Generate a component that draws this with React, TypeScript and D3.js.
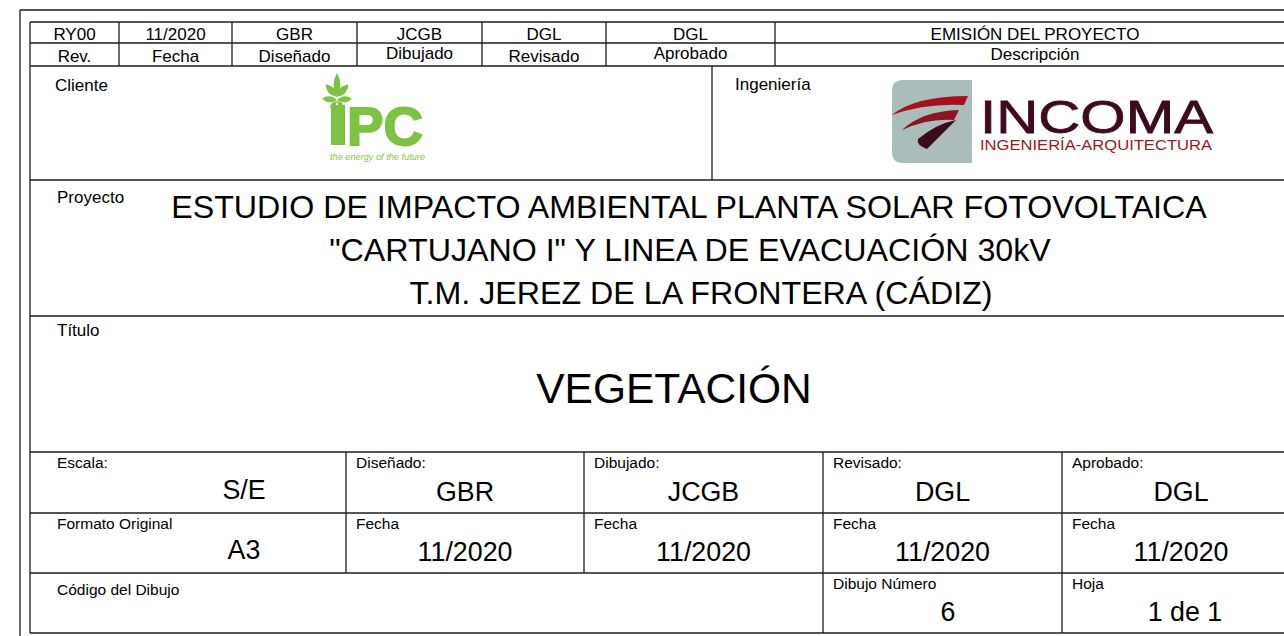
import React, { useEffect, useRef } from "react";
import * as d3 from "d3";

// ---------- data ----------
const revValues = ["RY00", "11/2020", "GBR", "JCGB", "DGL", "DGL", "EMISIÓN DEL PROYECTO"];
const revLabels = ["Rev.", "Fecha", "Diseñado", "Dibujado", "Revisado", "Aprobado", "Descripción"];
const clientLabel = "Cliente";
const engineeringLabel = "Ingeniería";
const projectLabel = "Proyecto";
const projectLines = [
  "ESTUDIO DE IMPACTO AMBIENTAL PLANTA SOLAR FOTOVOLTAICA",
  "\"CARTUJANO I\" Y LINEA DE EVACUACIÓN 30kV",
  "T.M. JEREZ DE LA FRONTERA (CÁDIZ)",
];
const titleLabel = "Título";
const drawingTitle = "VEGETACIÓN";
const gridRow1Labels = ["Escala:", "Diseñado:", "Dibujado:", "Revisado:", "Aprobado:"];
const gridRow1Values = ["S/E", "GBR", "JCGB", "DGL", "DGL"];
const gridRow2Labels = ["Formato Original", "Fecha", "Fecha", "Fecha", "Fecha"];
const gridRow2Values = ["A3", "11/2020", "11/2020", "11/2020", "11/2020"];
const gridRow3Labels = ["Código del Dibujo", "Dibujo Número", "Hoja"];
const gridRow3Values = ["", "6", "1 de 1"];
const ipcName = "PC";
const ipcTagline = "the energy of the future";
const incomaName = "INCOMA";
const incomaTagline = "INGENIERÍA-ARQUITECTURA";

// ---------- layout ----------
const W = 1284;
const H = 636;
const FONT = "'Liberation Sans', Arial, Helvetica, sans-serif";
const LINE = "#1c1c1c";
const revEdges = [30, 119, 232, 357, 482, 606, 775, 1295];
const revLabelDy = [0, 0, 0, -3, 0, -3, -2];
const gridEdges = [30, 346, 584, 823, 1062, 1300];
const row3Edges = [30, 823, 1062, 1300];
const GREEN = "#7dc242";

export default function App() {
  const ref = useRef<SVGSVGElement | null>(null);

  useEffect(() => {
    const svg = d3.select(ref.current);
    svg.selectAll("*").remove();
    const g = svg.append("g");

    const line = (x1: number, y1: number, x2: number, y2: number, w = 1.3) =>
      g.append("line").attr("x1", x1).attr("y1", y1).attr("x2", x2).attr("y2", y2)
        .attr("stroke", LINE).attr("stroke-width", w);

    const text = (s: string, x: number, y: number, size: number, anchor = "start") =>
      g.append("text").attr("x", x).attr("y", y).attr("font-family", FONT)
        .attr("font-size", size).attr("text-anchor", anchor).attr("fill", "#000").text(s);

    // outer frame
    line(20, 10, 1300, 10);
    line(20, 10, 20, 640);
    // inner frame
    line(30, 22, 1300, 22);
    line(30, 22, 30, 633);
    line(30, 633, 1300, 633);

    // horizontal lines
    [43, 66, 180, 316, 452, 513, 573].forEach((y) => line(30, y, 1300, y));

    // revision table
    const revCenters = d3.pairs(revEdges).map(([a, b]) => (a + b) / 2);
    revEdges.slice(1, -1).forEach((x) => line(x, 22, x, 66));
    revValues.forEach((v, i) => text(v, revCenters[i], 40, 17, "middle"));
    revLabels.forEach((v, i) => text(v, revCenters[i], 61.5 + revLabelDy[i], 17, "middle"));

    // client / engineering
    line(712, 66, 712, 180);
    text(clientLabel, 55, 90.5, 17);
    text(engineeringLabel, 735, 90, 17);

    // IPC logo
    const ipc = g.append("g");
    const leafPath = (cx: number, cy: number, len: number, wid: number, ang: number) => {
      const p = d3.path();
      p.moveTo(0, 0);
      p.quadraticCurveTo(wid, -len * 0.5, 0, -len);
      p.quadraticCurveTo(-wid, -len * 0.5, 0, 0);
      ipc.append("path").attr("d", p.toString())
        .attr("transform", `translate(${cx},${cy}) rotate(${ang})`)
        .attr("fill", GREEN);
    };
    leafPath(337, 97, 24, 7, 0);
    leafPath(337, 97, 17, 7, -42);
    leafPath(337, 97, 17, 7, 42);
    leafPath(337, 100, 15, 6, -85);
    leafPath(337, 100, 15, 6, 85);
    leafPath(337, 101, 10, 4, -135);
    leafPath(337, 101, 10, 4, 135);
    ipc.append("rect").attr("x", 331).attr("y", 105).attr("width", 14).attr("height", 40).attr("fill", GREEN);
    const ipcText = ipc.append("text").attr("font-family", FONT).attr("fill", GREEN);
    ipcText.append("tspan").attr("x", 347).attr("y", 145)
      .attr("font-weight", "bold").attr("font-size", 54)
      .attr("stroke", GREEN).attr("stroke-width", 1.8)
      .attr("textLength", 76).attr("lengthAdjust", "spacingAndGlyphs").text(ipcName);
    ipcText.append("tspan").attr("x", 330).attr("y", 160)
      .attr("font-size", 9).attr("fill", "#8cc63f").attr("font-style", "italic")
      .attr("textLength", 95).attr("lengthAdjust", "spacingAndGlyphs").text(ipcTagline);

    // INCOMA logo
    const inc = g.append("g");
    const box = d3.path();
    box.moveTo(972, 80);
    box.lineTo(903, 80);
    box.quadraticCurveTo(892, 80, 892, 91);
    box.lineTo(892, 152);
    box.quadraticCurveTo(892, 163, 903, 163);
    box.lineTo(972, 163);
    box.closePath();
    inc.append("path").attr("d", box.toString()).attr("fill", "#abbdba");
    inc.append("path").attr("d", "M892,115 Q915,96 968,96 L964,105 Q925,103 892,115 Z").attr("fill", "#a3121e");
    inc.append("path").attr("d", "M902,130 Q922,111 959,110 L954,120 Q928,118 902,130 Z").attr("fill", "#8c1423");
    inc.append("path").attr("d", "M918,139 Q936,124 956,120 L927,149 Q916,145 918,139 Z").attr("fill", "#3d0b1b");
    const incText = inc.append("text").attr("font-family", FONT);
    incText.append("tspan").attr("x", 980).attr("y", 133)
      .attr("font-size", 47).attr("fill", "#3d0b1b")
      .attr("stroke", "#3d0b1b").attr("stroke-width", 0.8)
      .attr("textLength", 233).attr("lengthAdjust", "spacingAndGlyphs").text(incomaName);
    incText.append("tspan").attr("x", 980).attr("y", 149.5)
      .attr("font-size", 15).attr("fill", "#a3141f")
      .attr("textLength", 232).attr("lengthAdjust", "spacingAndGlyphs").text(incomaTagline);

    // project
    text(projectLabel, 57, 203, 17);
    const projX = [689, 690, 701];
    projectLines.forEach((s, i) => text(s, projX[i], 218 + i * 43, 32.2, "middle"));

    // title
    text(titleLabel, 57, 335.5, 17);
    text(drawingTitle, 674, 403, 42.5, "middle");

    // bottom grid
    gridEdges.slice(1, 3).forEach((x) => line(x, 452, x, 573));
    gridEdges.slice(3, -1).forEach((x) => line(x, 452, x, 633));
    const gridCenters = d3.pairs(gridEdges).map(([a, b]) => (a + b) / 2);
    gridCenters[0] = 244;
    const labelX = gridEdges.slice(0, -1).map((x, i) => (i === 0 ? 57 : x + 10));

    gridRow1Labels.forEach((s, i) => text(s, labelX[i], 468, 15.5));
    gridRow1Values.forEach((s, i) => text(s, gridCenters[i], i === 0 ? 499 : 501, 26.8, "middle"));
    gridRow2Labels.forEach((s, i) => text(s, labelX[i], 529, 15.5));
    gridRow2Values.forEach((s, i) => text(s, gridCenters[i], i === 0 ? 559 : 561, 26.8, "middle"));

    const row3LabelX = [57, row3Edges[1] + 10, row3Edges[2] + 10];
    const row3LabelY = [595, 589, 589];
    const row3Centers = [0, 948, 1185];
    gridRow3Labels.forEach((s, i) => text(s, row3LabelX[i], row3LabelY[i], 15.5));
    gridRow3Values.forEach((s, i) => { if (s) text(s, row3Centers[i], 621, 26.8, "middle"); });
  }, []);

  return (
    <svg
      ref={ref}
      width={W}
      height={H}
      style={{ position: "absolute", left: 0, top: 0, background: "#fff" }}
    />
  );
}
